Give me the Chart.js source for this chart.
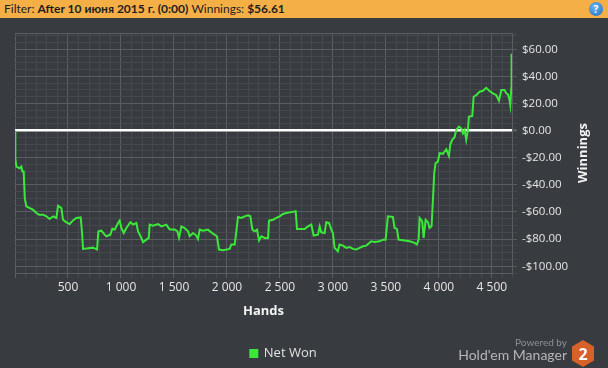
<!DOCTYPE html>
<html>
<head>
<meta charset="utf-8">
<script src="https://cdn.jsdelivr.net/npm/chart.js@4"></script>
<style>
  body { margin: 0; background: #383b3f; width: 608px; height: 368px; overflow: hidden; position: relative; font-family: "Open Sans", sans-serif; }
  #bar { position: absolute; left: 0; top: 0; width: 608px; height: 18px; background: #f4af47; color: #1e1e1e; font-size: 12px; line-height: 18px; font-family: Lato, sans-serif; }
  #bar span.t { position: absolute; left: 4px; top: 0; white-space: nowrap; }
  #help { position: absolute; left: 589px; top: 2px; width: 14px; height: 14px; border-radius: 7px; background: radial-gradient(circle at 40% 35%, #6db3f2, #1f6fc0); color: #fff; font: bold 10px "Open Sans", sans-serif; text-align: center; line-height: 14px; }
  #wrap { position: absolute; left: 0; top: 18px; width: 608px; height: 352px; }
  #pw1 { position: absolute; right: 41px; top: 336px; font: 10px Lato, sans-serif; color: #8e9194; }
  #pw2 { position: absolute; right: 41px; top: 346px; font: 14px Lato, sans-serif; color: #b4b6b8; }
  #hex { position: absolute; left: 571px; top: 339px; }
</style>
</head>
<body>
<div id="bar"><span class="t">Filter: <b>After 10 июня 2015 г. (0:00)</b> Winnings: <b>$56.61</b></span><div id="help">?</div></div>
<div id="wrap"><canvas id="chart" width="608" height="352"></canvas></div>
<div id="pw1">Powered by</div>
<div id="pw2">Hold'em Manager</div>
<svg id="hex" width="24" height="29" viewBox="0 0 24 29">
  <polygon points="12,1 23,7.5 23,21.5 12,28 1,21.5 1,7.5" fill="#d8612a"/>
  <text x="12" y="20.5" text-anchor="middle" font-family="Open Sans, sans-serif" font-weight="bold" font-size="16" fill="#ffffff">2</text>
</svg>
<script>
// hands played vs cumulative net won ($)
var hands = [0, 3, 13, 44, 60, 70, 82, 92, 107, 139, 170, 202, 227, 265, 296, 327, 359, 390, 406, 438,
  453, 485, 516, 548, 579, 620, 633, 642, 673, 736, 774, 787, 815, 846, 862, 900, 919, 941, 972, 988,
  1004, 1026, 1051, 1089, 1114, 1145, 1161, 1192, 1208, 1240, 1262, 1271, 1302, 1350, 1381, 1428, 1460, 1507, 1532, 1548,
  1570, 1601, 1633, 1648, 1680, 1711, 1727, 1743, 1774, 1821, 1868, 1906, 1925, 1963, 2026, 2041, 2073, 2089, 2104, 2136,
  2167, 2199, 2221, 2240, 2262, 2284, 2303, 2325, 2356, 2388, 2397, 2435, 2466, 2498, 2529, 2561, 2592, 2649, 2661, 2686,
  2733, 2764, 2796, 2818, 2859, 2875, 2890, 2922, 2937, 2963, 2985, 3000, 3016, 3047, 3063, 3095, 3126, 3158, 3189, 3220,
  3252, 3283, 3315, 3362, 3394, 3441, 3472, 3497, 3519, 3566, 3582, 3604, 3620, 3661, 3724, 3771, 3793, 3809, 3818, 3843,
  3856, 3875, 3897, 3912, 3931, 3944, 3956, 3969, 3991, 4007, 4038, 4070, 4095, 4107, 4126, 4148, 4164, 4189, 4211, 4227,
  4243, 4258, 4274, 4283, 4315, 4328, 4353, 4384, 4416, 4447, 4478, 4510, 4541, 4567, 4589, 4620, 4636, 4652, 4667, 4674,
  4683, 4686];
var netWon = [0, -20.3, -26.5, -27.7, -26.5, -30.1, -30.1, -49.7, -55.9, -57.1, -58.3, -60.8, -62.0, -62.0, -63.2, -65.2, -63.2, -64.4, -55.4, -57.1,
  -65.7, -67.6, -68.9, -66.2, -64.4, -64.0, -75.5, -87.2, -87.0, -86.3, -87.7, -74.2, -73.8, -76.7, -77.9, -76.7, -72.3, -73.0, -68.1, -66.4,
  -71.8, -75.5, -71.8, -67.6, -69.3, -68.1, -74.2, -79.1, -82.3, -80.4, -79.1, -69.3, -70.1, -68.9, -70.6, -69.3, -73.0, -73.0, -74.2, -79.1,
  -70.6, -71.8, -74.2, -77.9, -75.5, -77.4, -79.9, -73.0, -73.8, -73.0, -76.0, -77.9, -87.7, -88.2, -87.2, -84.0, -84.0, -74.2, -63.7, -64.4,
  -63.2, -62.5, -63.2, -73.0, -74.2, -73.0, -80.9, -77.9, -79.1, -79.1, -66.4, -65.7, -64.4, -63.2, -61.5, -60.8, -60.3, -59.5, -72.5, -72.5,
  -72.5, -70.6, -69.3, -77.4, -76.7, -70.6, -75.0, -75.5, -67.6, -68.1, -73.0, -75.5, -86.5, -89.0, -84.0, -84.8, -86.5, -85.8, -87.2, -87.7,
  -86.5, -85.3, -84.8, -81.6, -82.1, -81.6, -80.4, -80.4, -63.2, -63.7, -71.8, -72.5, -80.4, -80.9, -81.6, -82.8, -84.0, -80.4, -64.4, -66.9,
  -79.1, -65.7, -67.6, -71.8, -70.6, -51.0, -31.3, -24.0, -22.8, -16.6, -17.1, -13.7, -18.6, -10.5, -6.8, -4.9, 0.5, 3.0, 1.7, -2.0,
  0.5, -6.8, 0.5, 10.3, 10.8, 25.0, 26.2, 28.7, 29.4, 31.6, 29.2, 27.5, 26.2, 22.0, 29.9, 29.9, 27.5, 26.7, 22.6, 18.9,
  31.2, 56.61];

var handsMin = 0, handsMax = 4690, handStep = 100, handLabelStep = 500;
var winMin = -105, winMax = 72, winStep = 5, winLabelStep = 20;

var points = hands.map(function (h, i) { return { x: h, y: netWon[i] }; });

var gridMajor = '#5a5d61';
var gridMinor = '#45484c';
var green = '#3ae83a';

function fmtHands(v) {
  return String(v).replace(/\B(?=(\d{3})+(?!\d))/g, ' ');
}
function fmtMoney(v) {
  return (v < 0 ? '-$' : '$') + Math.abs(v).toFixed(2);
}
// ticks every `step` from min, plus both ends of the range
function stepTicks(min, max, step) {
  var t = [{ value: min }];
  for (var v = Math.ceil(min / step) * step; v < max; v += step) {
    if (v > min) t.push({ value: v });
  }
  t.push({ value: max });
  return t;
}

var sideTitle = {
  id: 'sideTitle',
  afterLayout: function (chart) {
    // legend sits a bit left of the canvas centre in the original
    chart.legend.left -= 9;
    chart.legend.right -= 9;
  },
  afterDraw: function (chart) {
    var ctx = chart.ctx, a = chart.chartArea;
    ctx.save();
    ctx.translate(583, (a.top + a.bottom) / 2);
    ctx.rotate(-Math.PI / 2);
    ctx.fillStyle = '#f2f2f2';
    ctx.font = 'bold 13px "Open Sans", sans-serif';
    ctx.textAlign = 'center';
    ctx.textBaseline = 'middle';
    ctx.fillText('Winnings', 0, 0);
    ctx.restore();
  }
};

new Chart(document.getElementById('chart'), {
  type: 'line',
  data: {
    datasets: [{
      label: 'Net Won',
      data: points,
      borderColor: green,
      backgroundColor: green,
      borderWidth: 2,
      pointRadius: 0,
      tension: 0,
      fill: false
    }]
  },
  options: {
    responsive: false,
    animation: false,
    layout: { padding: { left: 15, top: 15, right: 38, bottom: 0 } },
    plugins: {
      legend: {
        position: 'bottom',
        labels: { boxWidth: 7, boxHeight: 7, padding: 8, color: '#e2e2e2', font: { family: 'Open Sans', size: 13 } }
      },
      tooltip: { enabled: false }
    },
    scales: {
      x: {
        type: 'linear',
        min: handsMin,
        max: handsMax,
        afterBuildTicks: function (s) { s.ticks = stepTicks(handsMin, handsMax, handStep); },
        afterFit: function (s) { s.height = 66; },
        ticks: {
          autoSkip: false,
          maxRotation: 0,
          padding: 2,
          color: '#e6e6e6',
          font: { family: 'Open Sans', size: 12 },
          callback: function (v) { return (v > 0 && v % handLabelStep === 0) ? fmtHands(v) : ''; }
        },
        grid: {
          tickLength: 5,
          color: function (c) { return c.tick && c.tick.value % handLabelStep === 0 ? gridMajor : gridMinor; },
          tickColor: function (c) { return c.tick && c.tick.value % handLabelStep === 0 ? gridMajor : gridMinor; }
        },
        border: { color: gridMajor },
        title: {
          display: true,
          text: 'Hands',
          color: '#f2f2f2',
          font: { family: 'Open Sans', size: 13, weight: 'bold' },
          padding: { top: 4, bottom: 20 }
        }
      },
      y: {
        position: 'right',
        min: winMin,
        max: winMax,
        afterBuildTicks: function (s) { s.ticks = stepTicks(winMin, winMax, winStep); },
        afterFit: function (s) { s.width = 58; },
        ticks: {
          autoSkip: false,
          padding: 5,
          color: '#e6e6e6',
          font: { family: 'Open Sans', size: 11.5 },
          callback: function (v) { return v % winLabelStep === 0 ? fmtMoney(v) : ''; }
        },
        grid: {
          tickLength: 5,
          lineWidth: function (c) { return c.tick && c.tick.value === 0 ? 2.5 : 1; },
          color: function (c) {
            if (!c.tick) return gridMinor;
            if (c.tick.value === 0) return '#ffffff';
            return (c.tick.value % winLabelStep === 0 || c.tick.value % winStep !== 0) ? gridMajor : gridMinor;
          },
          tickColor: function (c) { return c.tick && c.tick.value % winLabelStep === 0 ? gridMajor : gridMinor; }
        },
        border: { color: gridMajor }
      }
    }
  },
  plugins: [sideTitle]
});
</script>
</body>
</html>
